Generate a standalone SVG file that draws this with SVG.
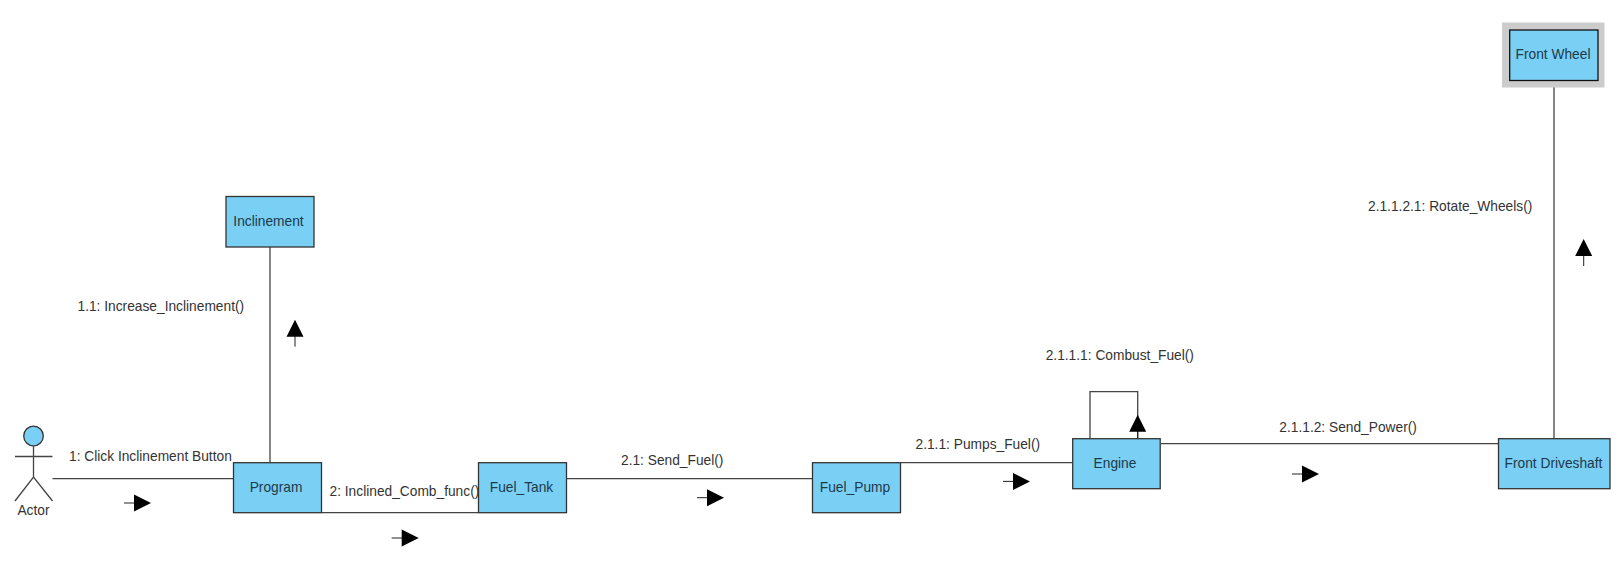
<svg xmlns="http://www.w3.org/2000/svg" width="1621" height="575" viewBox="0 0 1621 575">
<style>
text{font-family:"Liberation Sans",Arial,sans-serif;font-size:13.75px;fill:#333}
.n{fill:#7ACFF5;stroke:#333;stroke-width:1.3}
.nt{text-anchor:middle;fill:#1d3a4a}
.c{fill:none;stroke:#444;stroke-width:1.3}
.h{fill:#000;stroke:none}
.s{fill:none;stroke:#222;stroke-width:1}
</style>
<defs>
<g id="ar"><path class="s" d="M-27 0H-16"/><path class="h" d="M-17 -8.500L0 0L-17 8.500Z"/></g>
</defs>
<rect width="1621" height="575" fill="#fff"/>
<g id="connectors">
<path class="c" d="M52.500 478.700H233"/>
<path class="c" d="M322 512.700H478"/>
<path class="c" d="M567 478.700H812"/>
<path class="c" d="M901 462.700H1072"/>
<path class="c" d="M1161 443.700H1498"/>
<path class="c" d="M270 247V462.700"/>
<path class="c" d="M1554 81V438.700"/>
<path class="c" d="M1090 438.700V391.700H1137.700V438.700"/>
</g>
<g id="arrows">
<use href="#ar" transform="translate(151 503)"/>
<use href="#ar" transform="translate(418.700 538)"/>
<use href="#ar" transform="translate(724 497.700)"/>
<use href="#ar" transform="translate(1030 481.400)"/>
<use href="#ar" transform="translate(1319 474)"/>
<use href="#ar" transform="translate(295 319.700) rotate(-90)"/>
<use href="#ar" transform="translate(1583.700 239) rotate(-90)"/>
<use href="#ar" transform="translate(1137.700 414.700) rotate(-90)"/>
</g>
<g id="labels">
<text x="69" y="460.700">1: Click Inclinement Button</text>
<text x="329.500" y="495.700">2: Inclined_Comb_func()</text>
<text x="621" y="464.700">2.1: Send_Fuel()</text>
<text x="915.500" y="448.700">2.1.1: Pumps_Fuel()</text>
<text x="1045.700" y="359.700">2.1.1.1: Combust_Fuel()</text>
<text x="1279.300" y="431.700">2.1.1.2: Send_Power()</text>
<text x="1368" y="210.700">2.1.1.2.1: Rotate_Wheels()</text>
<text x="77.500" y="310.700">1.1: Increase_Inclinement()</text>
</g>
<g id="actor">
<circle cx="33.500" cy="436" r="9.800" fill="#7ACFF5" stroke="#333" stroke-width="1.300"/>
<path class="c" d="M33.500 446V477M15 456.500H52.500M15 501L33.500 477L52.500 501"/>
<text x="33.500" y="515" text-anchor="middle">Actor</text>
</g>
<g id="program"><rect class="n" x="233.500" y="462.700" width="88" height="50"/><text class="nt" x="276" y="491.700">Program</text></g>
<g id="fuel-tank"><rect class="n" x="478.500" y="462.700" width="88" height="50"/><text class="nt" x="521.500" y="491.700">Fuel_Tank</text></g>
<g id="fuel-pump"><rect class="n" x="812.500" y="462.700" width="88" height="50"/><text class="nt" x="855" y="491.700">Fuel_Pump</text></g>
<g id="engine"><rect class="n" x="1072.700" y="438.700" width="87.500" height="50"/><text class="nt" x="1115" y="467.700">Engine</text></g>
<g id="front-driveshaft"><rect class="n" x="1498.500" y="438.700" width="111.500" height="50"/><text class="nt" x="1553.500" y="467.700">Front Driveshaft</text></g>
<g id="inclinement"><rect class="n" x="226" y="196.500" width="88" height="50.500"/><text class="nt" x="268.500" y="226">Inclinement</text></g>
<g id="front-wheel"><rect x="1502" y="22.500" width="102.500" height="65" fill="#ccc"/><rect x="1509.700" y="30" width="88.300" height="50.500" fill="#7ACFF5" stroke="#111" stroke-width="1.300"/><text class="nt" x="1553" y="59">Front Wheel</text></g>
</svg>
